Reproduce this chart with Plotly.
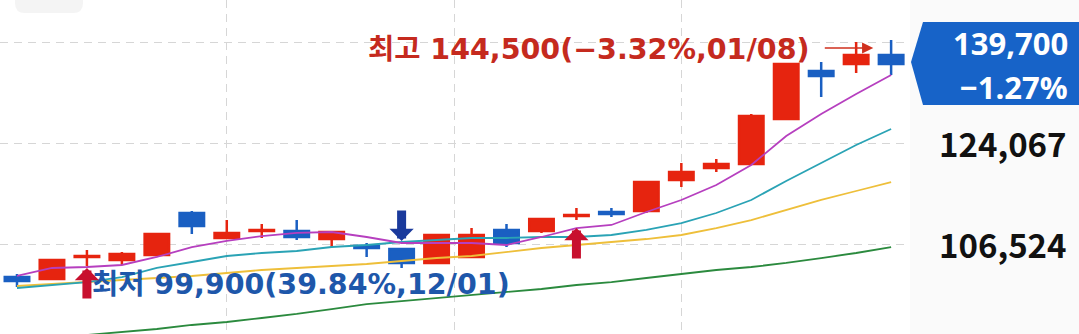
import plotly.graph_objects as go

# ---------------- data ----------------
idx = list(range(26))
opens = [100790, 100450, 104270, 103750, 104610, 111910, 107570, 108780, 108780, 107390,
         106180, 105660, 103230, 104270, 108960, 108780, 111390, 112080, 112260, 117640,
         119730, 120420, 128240, 136570, 137790, 139350]
highs = [101310, 103750, 105480, 105130, 108440, 112260, 110690, 110000, 110690, 108780,
         106700, 105830, 108260, 109300, 110000, 111040, 112780, 112780, 117470, 120590,
         121290, 129100, 137960, 138140, 141610, 141960]
lows = [99060, 100270, 102700, 102880, 104610, 108260, 107390, 107570, 107220, 106000,
        104270, 102360, 103230, 104090, 106000, 108440, 110690, 111210, 111910, 116430,
        119030, 120420, 128060, 132060, 136230, 135880]
closes = [100100, 103750, 104440, 104790, 108260, 109650, 108440, 108960, 107740, 108610,
          105830, 103230, 108090, 108090, 106700, 110870, 111560, 111740, 117290, 119030,
          120420, 128760, 137790, 135710, 139350, 137790]

ma5 = [100970, 102360, 102530, 102880, 104270, 106000, 107050, 107910, 108440, 108610,
       107740, 106700, 106700, 106700, 106350, 107740, 109300, 109830, 112080, 114170,
       116770, 120250, 125280, 129100, 132580, 135880]
ma20 = [98880, 99400, 99920, 100790, 102360, 103400, 104440, 104960, 105310, 106000,
        106350, 106870, 107220, 107570, 107570, 107740, 107740, 108090, 108960, 110170,
        111910, 114170, 117470, 120590, 123720, 126500]
ma60 = [99230, 99580, 99920, 100270, 100620, 100970, 101490, 102010, 102360, 102700,
        103050, 103570, 104090, 104440, 105140, 105830, 106350, 106870, 107390, 108090,
        109300, 110690, 112430, 114170, 115730, 117290]
ma120 = [None, None, 90720, 91240, 91760, 92460, 92980, 93670, 94370, 95230,
         96100, 96620, 97150, 97670, 98190, 98710, 99400, 99920, 100620, 101310,
         102010, 102530, 103230, 104090, 104960, 106000]

grid_vals = [141610, 124067, 106524]
right_label_vals = [124067, 106524]
right_label_text = ["124,067", "106,524"]
x_grid = [6, 12.5, 19]

high_text = "최고 144,500(−3.32%,01/08)"
low_text = "최저 99,900(39.84%,12/01)"
last_price_text = "139,700"
last_change_text = "−1.27%"

# buy / sell signal arrows: (index, tip price, kind)
signals = [(2, 102360, "buy"), (11, 107050, "sell"), (16, 109300, "buy")]
high_arrow_point = (24.49, 140570)

# ---------------- style ----------------
W, H = 1079, 334
PLOT_W = 910
RED = "#e6240f"
BLUE = "#1a5fc2"
LABEL_FONT = "DejaVu Sans, Noto Sans CJK KR"
NUM_FONT = "Noto Sans CJK KR, Noto Sans"
BOX_FONT = "Open Sans, Noto Sans"


def px(x):
    return x / PLOT_W


def py(y):
    return 1 - y / H


fig = go.Figure()

fig.add_trace(go.Candlestick(
    x=idx, open=opens, high=highs, low=lows, close=closes,
    increasing=dict(line=dict(color=RED, width=2.5), fillcolor=RED),
    decreasing=dict(line=dict(color=BLUE, width=2.5), fillcolor=BLUE),
    whiskerwidth=0, showlegend=False, hoverinfo="skip",
))

for vals, col in [(ma120, "#2b8a3e"), (ma60, "#eebf3a"), (ma20, "#2aa3b5"), (ma5, "#b63fbf")]:
    fig.add_trace(go.Scatter(x=idx, y=vals, mode="lines", line=dict(color=col, width=1.8),
                             showlegend=False, hoverinfo="skip", connectgaps=False))

shapes = [
    # right grey panel
    dict(type="rect", xref="paper", yref="paper", x0=1, x1=W / PLOT_W, y0=0, y1=1,
         fillcolor="#fafafa", line=dict(width=0), layer="below"),
    # top-left faint button
    dict(type="path", xref="paper", yref="paper", layer="below",
         path=f"M {px(15)},{py(-10)} L {px(83)},{py(-10)} L {px(83)},{py(3)} "
              f"Q {px(83)},{py(13)} {px(73)},{py(13)} L {px(25)},{py(13)} "
              f"Q {px(15)},{py(13)} {px(15)},{py(3)} Z",
         fillcolor="#f4f4f4", line=dict(width=0)),
    # current price box
    dict(type="path", xref="paper", yref="paper",
         path=f"M {px(923)},{py(22)} L {px(W)},{py(22)} L {px(W)},{py(105)} "
              f"L {px(923)},{py(105)} L {px(911)},{py(62)} Z",
         fillcolor="#1763c8", line=dict(width=0)),
]

annotations = [
    dict(text=high_text, xref="paper", yref="paper", x=px(366), y=py(50), xanchor="left",
         yanchor="middle", showarrow=False,
         font=dict(family=LABEL_FONT, size=28.5, color="#c52a1e", weight="bold")),
    dict(text=low_text, xref="paper", yref="paper", x=px(90), y=py(284), xanchor="left",
         yanchor="middle", showarrow=False,
         font=dict(family=LABEL_FONT, size=28.5, color="#1e57aa", weight="bold")),
    dict(text=last_price_text, xref="paper", yref="paper", x=px(1069), y=py(43.5),
         xanchor="right", yanchor="middle", showarrow=False, borderpad=0,
         font=dict(family=BOX_FONT, size=31, color="white", weight="bold")),
    dict(text=last_change_text, xref="paper", yref="paper", x=px(1069), y=py(87),
         xanchor="right", yanchor="middle", showarrow=False, borderpad=0,
         font=dict(family=BOX_FONT, size=31, color="white", weight="bold")),
    dict(text="", x=high_arrow_point[0], y=high_arrow_point[1], xref="x", yref="y",
         ax=-50, ay=0, showarrow=True, arrowhead=2, arrowwidth=1.6, arrowsize=1.4,
         arrowcolor="#d0301e", standoff=0),
]
for t, v in zip(right_label_text, right_label_vals):
    annotations.append(dict(text=t, xref="paper", yref="y", x=px(1069), y=v, xanchor="right",
                            yanchor="middle", showarrow=False,
                            font=dict(family=NUM_FONT, size=33, color="#111111", weight="bold")))
for i, tip, kind in signals:
    col = "#c8102e" if kind == "buy" else "#1a3a9c"
    annotations.append(dict(text="", x=i, y=tip, xref="x", yref="y", ax=0,
                            ay=32 if kind == "buy" else -32, showarrow=True, arrowhead=1,
                            arrowwidth=9, arrowsize=0.45, arrowcolor=col, standoff=0))

y_top = 148905
y_bot = 90893

fig.update_layout(
    width=W, height=H, margin=dict(l=0, r=W - PLOT_W, t=0, b=0, pad=0),
    paper_bgcolor="white", plot_bgcolor="white",
    showlegend=False, boxgap=0.3, boxgroupgap=0,
    shapes=shapes, annotations=annotations,
    xaxis=dict(range=[-0.486, 25.54], rangeslider=dict(visible=False), tickvals=x_grid,
               showticklabels=False, showgrid=True, gridcolor="#d6d6d6", griddash="8px,6px",
               gridwidth=1, zeroline=False, showline=False, ticks=""),
    yaxis=dict(range=[y_bot, y_top], tickvals=grid_vals, showticklabels=False, showgrid=True,
               gridcolor="#d6d6d6", griddash="8px,6px", gridwidth=1, zeroline=False,
               showline=False, ticks=""),
)

fig.write_html("out.html")
